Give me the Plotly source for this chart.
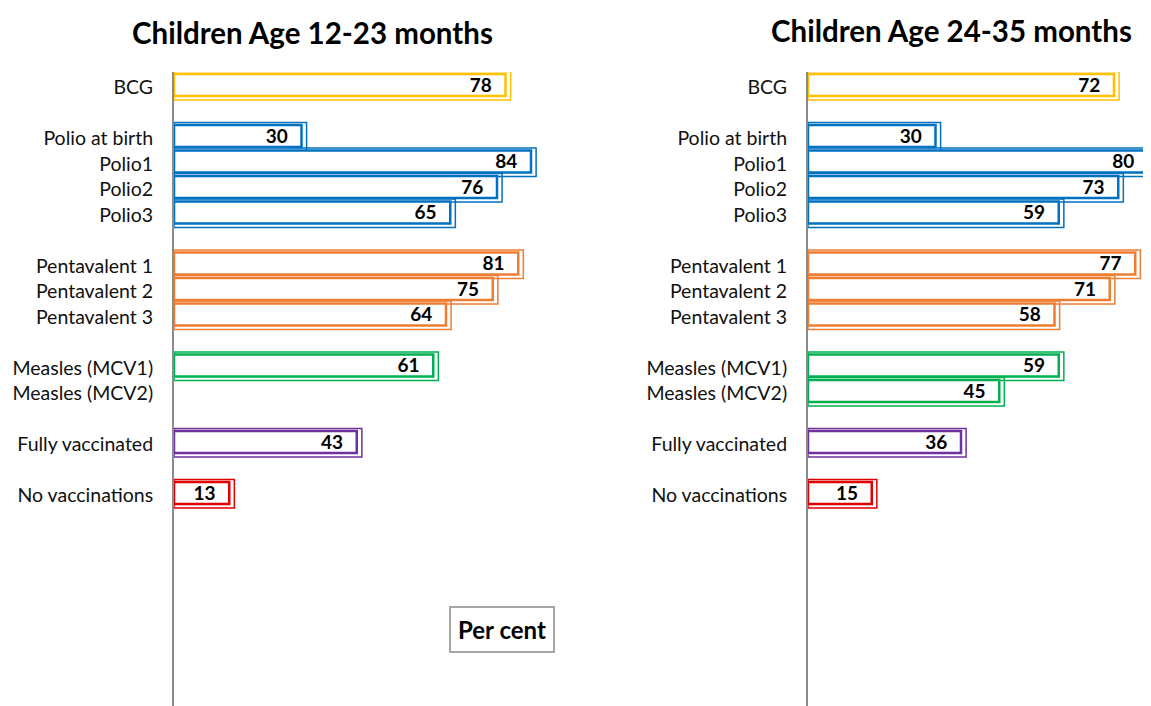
import plotly.graph_objects as go

# categories in groups (a blank row is left between groups)
groups = [
    ["BCG"],
    ["Polio at birth", "Polio1", "Polio2", "Polio3"],
    ["Pentavalent 1", "Pentavalent 2", "Pentavalent 3"],
    ["Measles (MCV1)", "Measles (MCV2)"],
    ["Fully vaccinated"],
    ["No vaccinations"],
]
group_colors = ["#FFC000", "#0070C0", "#ED7D31", "#00B050", "#7030A0", "#E00000"]

age_12_23 = [78, 30, 84, 76, 65, 81, 75, 64, 61, None, 43, 13]
age_24_35 = [72, 30, 80, 73, 59, 77, 71, 58, 59, 45, 36, 15]

titles = ["Children Age 12-23 months", "Children Age 24-35 months"]

# build rows / colours from the groups
labels, rows, colors = [], [], []
r = 0
for g, c in zip(groups, group_colors):
    for name in g:
        labels.append(name)
        rows.append(r)
        colors.append(c)
        r += 1
    r += 1

FONT = "Lato"
# page body has an 8px margin, so the figure is a bit smaller than the window
W, H = 1143, 698
TOP = 64
PX_PER_UNIT = 4.25
AX_LEFT, AX_RIGHT = 166, 800

fig = go.Figure()

panels = [
    (age_12_23, "x", "y"),
    (age_24_35, "x2", "y2"),
]

for vals, xa, ya in panels:
    xs = [v for v in vals if v is not None]
    ys = [rw for rw, v in zip(rows, vals) if v is not None]
    cs = [c for c, v in zip(colors, vals) if v is not None]
    # outer thin outline
    fig.add_trace(go.Bar(
        x=[v + 1.2 for v in xs], y=ys, orientation="h",
        width=1.12, offset=-0.53,
        marker=dict(color="rgba(0,0,0,0)", line=dict(color=cs, width=1.5)),
        xaxis=xa, yaxis=ya, showlegend=False, hoverinfo="skip"))
    # inner bar
    fig.add_trace(go.Bar(
        x=xs, y=ys, orientation="h",
        width=0.86, offset=-0.43,
        marker=dict(color="white", line=dict(color=cs, width=2.5)),
        xaxis=xa, yaxis=ya, showlegend=False))
    # value labels
    fig.add_trace(go.Scatter(
        x=[v - 3.2 for v in xs], y=[y + 0.08 for y in ys], mode="text",
        text=[str(v) for v in xs], textposition="middle left",
        textfont=dict(family=FONT, size=19, color="black", weight="bold"),
        xaxis=xa, yaxis=ya, showlegend=False, hoverinfo="skip"))

yrange = [24.35, -0.51]
yax = dict(range=yrange, tickvals=[rw + 0.1 for rw in rows], ticktext=labels,
           showline=True, linecolor="#8c8c8c", linewidth=2, showgrid=False,
           zeroline=False, ticks="", ticklabelstandoff=15, automargin=False,
           tickfont=dict(family=FONT, size=19.5, color="#111111"), fixedrange=True)

fig.update_layout(
    width=W, height=H, margin=dict(l=0, r=0, t=TOP, b=0),
    plot_bgcolor="white", paper_bgcolor="white", barmode="overlay",
    xaxis=dict(domain=[AX_LEFT / W, (AX_LEFT + 100 * PX_PER_UNIT) / W], range=[0, 100], visible=False),
    xaxis2=dict(domain=[AX_RIGHT / W, 1], range=[0, (W - AX_RIGHT) / PX_PER_UNIT], visible=False),
    yaxis=dict(anchor="x", **yax),
    yaxis2=dict(anchor="x2", **yax),
)

fig.add_annotation(text="<b>" + titles[0] + "</b>", x=304 / W, y=1, xref="paper", yref="paper",
                   xanchor="center", yanchor="middle", yshift=TOP - 24, showarrow=False,
                   font=dict(family=FONT, size=29.5, color="black"))
fig.add_annotation(text="<b>" + titles[1] + "</b>", x=943 / W, y=1, xref="paper", yref="paper",
                   xanchor="center", yanchor="middle", yshift=TOP - 22, showarrow=False,
                   font=dict(family=FONT, size=29.5, color="black"))
fig.add_annotation(text="<b>Per cent</b>", x=494 / W, y=(H - 621) / (H - TOP), xref="paper", yref="paper",
                   xanchor="center", yanchor="middle", showarrow=False,
                   font=dict(family=FONT, size=24, color="black"),
                   bordercolor="#a6a6a6", borderwidth=2, borderpad=7, bgcolor="white")

fig.write_html("out.html")
